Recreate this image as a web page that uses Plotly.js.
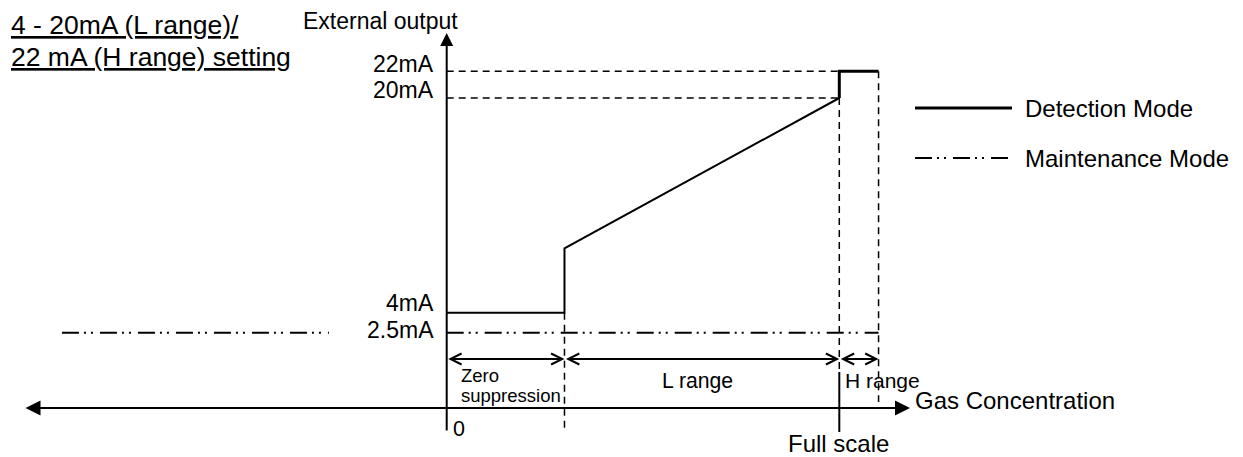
<!DOCTYPE html>
<html><head><meta charset="utf-8">
<script src="https://cdn.plot.ly/plotly-3.0.1.min.js"></script>
<style>html,body{margin:0;padding:0;background:#fff;} #chart{width:1243px;height:457px;}</style>
</head><body><div id="chart"></div>
<script>
// ---------------- data ----------------
// x: gas concentration in % of full scale; y: external output in mA
const rangeBounds = [0, 30, 100, 110];   // 0, end of zero suppression, full scale, end of H range
const rangeLabels = ['Zero suppression', 'L range', 'H range'];
const detectionX = [0, 30, 30, 100];
const detectionY = [4, 4, 8.8, 20];
const detectionHX = [100, 100, 110];
const detectionHY = [20, 22, 22];
const maintenanceX = [0, 110];
const maintenanceY = [2.5, 2.5];
const maintenanceLeftX = [-98, -30];
const maintenanceLeftY = [2.5, 2.5];
const yTickVals = [22, 20, 4, 2.5];
const yTickText = ['22mA', '20mA', '4mA', '2.5mA'];
const legendNames = ['Detection Mode', 'Maintenance Mode'];

// ---------------- layout helpers ----------------
const W = 1243, H = 457;
const X0PX = 446.7, XS = 3.926;   // pixel of x=0, px per unit
const Y0PX = 366.4, YS = 13.42;   // pixel of y=0 mA, px per mA
const px2x = p => (p - X0PX) / XS;
const py2y = p => (Y0PX - p) / YS;
const FONT = 'Liberation Sans, Arial, sans-serif';

const xAxisY = py2y(408), yAxisBottom = py2y(432), yAxisTop = py2y(33);
const xLeft = px2x(24), xRight = px2x(910), dimY = py2y(359);
const MAINT_DASH = '17px,5px,2px,5px,2px,7px';
const tickLabelShift = [6.7, 8, 9.7, 2.9];   // label offset above its level, px

// guide (dashed) lines built from the data values
const gx = [], gy = [];
function seg(x1, y1, x2, y2) { gx.push(x1, x2, null); gy.push(y1, y2, null); }
seg(rangeBounds[0], yTickVals[0], rangeBounds[3], yTickVals[0]);
seg(rangeBounds[0], yTickVals[1], rangeBounds[2], yTickVals[1]);
seg(rangeBounds[1], detectionY[1], rangeBounds[1], yAxisBottom);
seg(rangeBounds[2], detectionY[3], rangeBounds[2], py2y(372));
seg(rangeBounds[3], detectionHY[2], rangeBounds[3], py2y(402));

const traces = [
  {x: gx, y: gy, mode: 'lines', connectgaps: false,
   line: {color: '#000', width: 1.5, dash: '7px,5px'}},
  {x: [rangeBounds[2], rangeBounds[2]], y: [py2y(372), yAxisBottom], mode: 'lines',
   line: {color: '#000', width: 2}},
  {x: maintenanceX, y: maintenanceY, mode: 'lines', name: legendNames[1],
   line: {color: '#000', width: 2, dash: MAINT_DASH}},
  {x: maintenanceLeftX, y: maintenanceLeftY, mode: 'lines',
   line: {color: '#000', width: 2, dash: MAINT_DASH}},
  {x: detectionX, y: detectionY, mode: 'lines', name: legendNames[0],
   line: {color: '#000', width: 2}},
  {x: detectionHX, y: detectionHY, mode: 'lines',
   line: {color: '#000', width: 3}},
  // legend samples
  {x: [px2x(915), px2x(1012)], y: [py2y(108), py2y(108)], mode: 'lines',
   line: {color: '#000', width: 3}},
  {x: [px2x(915), px2x(1012)], y: [py2y(158), py2y(158)], mode: 'lines',
   line: {color: '#000', width: 2, dash: MAINT_DASH}}
];

function lbl(text, px, py, size, xanchor) {
  return {xref: 'paper', yref: 'paper', x: px / W, y: 1 - py / H, text: text,
    showarrow: false, xanchor: xanchor, yanchor: 'middle',
    font: {family: FONT, size: size, color: '#000'}};
}
function arrow(x, y, ax, ay, opts) {
  return Object.assign({xref: 'x', yref: 'y', axref: 'x', ayref: 'y',
    x: x, y: y, ax: ax, ay: ay, text: '', showarrow: true, arrowcolor: '#000'}, opts);
}

const annotations = [
  lbl('<u>4 - 20mA (L range)/</u>', 9, 25, 26.5, 'left'),
  lbl('<u>22 mA (H range) setting</u>', 9, 57.5, 26.5, 'left'),
  lbl('External output', 301, 21.5, 23, 'left'),
  lbl(legendNames[0], 1023, 108, 24, 'left'),
  lbl(legendNames[1], 1023, 158, 24, 'left'),
  lbl(rangeLabels[0].split(' ')[0], 459, 375, 18.5, 'left'),
  lbl(rangeLabels[0].split(' ')[1], 459, 395, 18.5, 'left'),
  lbl(rangeLabels[1], 697, 381, 21.2, 'center'),
  lbl(rangeLabels[2], 843, 380, 21, 'left'),
  lbl('0', 451, 429, 21.5, 'left'),
  lbl('Full scale', 838, 443.7, 24, 'center'),
  lbl('Gas Concentration', 913, 400, 24, 'left'),
  // axes with arrowheads
  arrow(0, yAxisTop, 0, yAxisBottom, {arrowhead: 2, arrowsize: 1.3, arrowwidth: 2}),
  arrow(xRight, xAxisY, xLeft, xAxisY, {arrowside: 'end+start', arrowhead: 2, startarrowhead: 2,
    arrowsize: 1.5, startarrowsize: 1.5, arrowwidth: 2})
];
yTickVals.forEach((v, i) => {
  annotations.push({xref: 'paper', yref: 'y', x: 436 / W, y: v, yshift: tickLabelShift[i],
    text: yTickText[i], showarrow: false, xanchor: 'right', yanchor: 'middle',
    font: {family: FONT, size: 23, color: '#000'}});
});
for (let i = 0; i < rangeBounds.length - 1; i++) {
  annotations.push(arrow(rangeBounds[i + 1], dimY, rangeBounds[i], dimY, {
    arrowside: 'end+start', arrowhead: 5, startarrowhead: 5,
    arrowsize: 1.2, startarrowsize: 1.2, arrowwidth: 1.8}));
}

const layout = {
  width: W, height: H, margin: {l: 0, r: 0, t: 0, b: 0},
  paper_bgcolor: '#fff', plot_bgcolor: '#fff', showlegend: false, hovermode: false,
  xaxis: {range: [px2x(0), px2x(W)], visible: false, fixedrange: true},
  yaxis: {range: [py2y(H), py2y(0)], visible: false, fixedrange: true},
  annotations: annotations
};
Plotly.newPlot('chart', traces, layout, {staticPlot: true, displayModeBar: false});
</script></body></html>
